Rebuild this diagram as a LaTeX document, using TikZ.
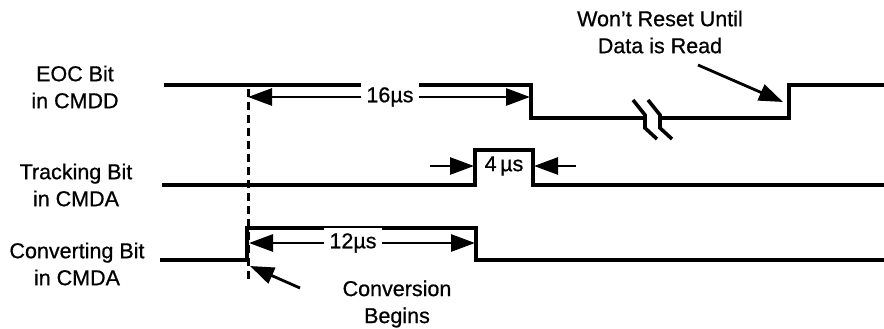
\documentclass[tikz,border=0pt]{standalone}
\usepackage{fontspec}
\setmainfont{Liberation Sans}[FakeBold=0.7]
\usetikzlibrary{arrows.meta}
\begin{document}
\begin{tikzpicture}[x=1pt,y=-1pt,
  wave/.style={line width=3.2pt, line join=miter},
  brk/.style={line width=3.6pt},
  dim/.style={line width=2.8pt, -{Triangle[length=24pt,width=17pt]}},
  lbl/.style={font=\fontsize{21.5}{27}\selectfont, align=center, inner sep=0pt},
  tag/.style={font=\fontsize{21.5}{27}\selectfont, fill=white, inner sep=5pt},
]
\useasboundingbox[fill=white] (0,0) rectangle (884,329);

% signal labels
\node[lbl] (eoc) at (75,87) {EOC Bit\\in CMDD};
\node[lbl] (trk) at (76,185) {Tracking Bit\\in CMDA};
\node[lbl] (cnv) at (77,264) {Converting Bit\\in CMDA};

% waveforms
\draw[wave] (164,85) -- (531,85) -- (531,118) -- (645,118);
\draw[wave] (660,118) -- (789,118) -- (789,85) -- (884,85);
\draw[wave] (162,185) -- (475,185) -- (475,150) -- (533,150) -- (533,185) -- (884,185);
\draw[wave] (160,260) -- (247,260) -- (247,228) -- (476,228) -- (476,260) -- (884,260);

% break marks
\draw[brk] (633,100) -- (645,115) -- (645,128) -- (657,139);
\draw[brk] (648,100) -- (660,115) -- (660,128) -- (672,139);

% dashed start line
\draw[line width=3pt, dash pattern=on 8pt off 5pt] (248,89) -- (248,282);

% 16 us
\node[tag] (t16) at (390,97) {16µs};
\coordinate (a16l) at (248,97);
\coordinate (a16r) at (530,97);
\draw[dim] (t16.west) -- (a16l);
\draw[dim] (t16.east) -- (a16r);

% 12 us
\node[tag] (t12) at (353,243) {12µs};
\coordinate (a12l) at (249,243);
\coordinate (a12r) at (475,243);
\draw[dim] (t12.west) -- (a12l);
\draw[dim] (t12.east) -- (a12r);

% 4 us
\node[font=\fontsize{21.5}{27}\selectfont, inner sep=0pt] (t4) at (504,166) {4\,µs};
\coordinate (a4lt) at (430,166);
\coordinate (a4l) at (474,166);
\coordinate (a4rt) at (576,166);
\coordinate (a4r) at (534,166);
\draw[dim] (a4lt) -- (a4l);
\draw[dim] (a4rt) -- (a4r);

% annotations
\node[lbl] (conv) at (397,304) {Conversion\\Begins};
\coordinate (convtail) at (300,288);
\coordinate (convtip) at (250,266);
\draw[dim] (convtail) -- (convtip);

\node[lbl] (wont) at (660,32) {Won't Reset Until\\Data is Read};
\coordinate (wonttail) at (698,65);
\coordinate (wonttip) at (783,102);
\draw[dim] (wonttail) -- (wonttip);
\end{tikzpicture}
\end{document}
